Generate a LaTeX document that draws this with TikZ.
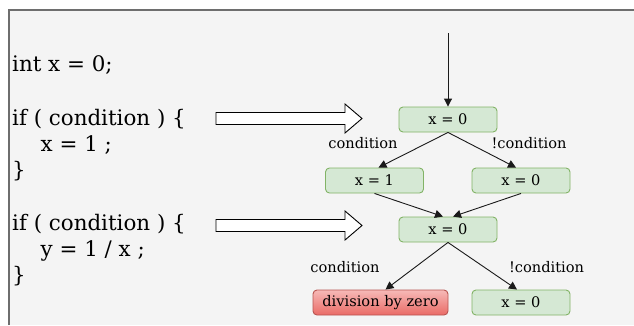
\documentclass[tikz,border=0pt]{standalone}
\usepackage{fontspec}
\setmainfont{DejaVu Serif}
\usetikzlibrary{arrows.meta}
\definecolor{bgfill}{HTML}{F4F4F4}
\definecolor{frameline}{HTML}{6E6E6E}
\definecolor{gfill}{HTML}{D5E8D4}
\definecolor{gline}{HTML}{82B366}
\definecolor{rtop}{HTML}{F6B9B7}
\definecolor{rbot}{HTML}{EA6B66}
\definecolor{rline}{HTML}{B85450}
\definecolor{edgecol}{HTML}{1A1A1A}
\tikzset{
  codeline/.style={anchor=base west, inner sep=0pt, font=\fontsize{21.4}{26}\selectfont},
  greenbox/.style={draw=gline, fill=gfill, rounded corners=4pt, line width=0.9pt,
    minimum width=98pt, minimum height=25pt, inner sep=0pt, font=\fontsize{14.6}{17}\selectfont},
  redbox/.style={draw=rline, top color=rtop, bottom color=rbot, rounded corners=4pt, line width=0.9pt,
    minimum width=135pt, minimum height=25pt, inner sep=0pt, font=\fontsize{14.6}{17}\selectfont},
  edgelbl/.style={inner sep=0pt, font=\fontsize{14.6}{17}\selectfont},
  flow/.style={draw=edgecol, line width=0.9pt, -{Triangle[length=8pt,width=8pt]}},
  bigarrow/.style={draw=black, fill=white, line width=0.9pt, line join=miter}
}
\begin{document}
\begin{tikzpicture}[x=1pt,y=-1pt]
\useasboundingbox (0,0) rectangle (634,325);
\fill[white] (0,0) rectangle (634,325);
\fill[bgfill] (9,10) rectangle (634,325);
\draw[frameline, line width=1.5pt] (9,325) -- (9,10) -- (634,10);

% code
\node[codeline] (c1) at (12,71.7) {int x = 0;};
\node[codeline] (c2) at (12,125) {if ( condition ) \{};
\node[codeline] (c3) at (40.5,151) {x = 1 ;};
\node[codeline] (c4) at (12,177) {\}};
\node[codeline] (c5) at (12,230) {if ( condition ) \{};
\node[codeline] (c6) at (40.5,256) {y = 1 / x ;};
\node[codeline] (c7) at (12,282) {\}};

% hollow arrows
\draw[bigarrow] (216,112.5) -- (345,112.5) -- (345,104) -- (362,118.5) -- (345,133) -- (345,124.5) -- (216,124.5) -- cycle;
\draw[bigarrow] (216,219.5) -- (345,219.5) -- (345,211) -- (362,225.5) -- (345,240) -- (345,231.5) -- (216,231.5) -- cycle;

% flow nodes
\node[greenbox] (a) at (448,119.5) {x = 0};
\node[greenbox] (b) at (374.5,180.5) {x = 1};
\node[greenbox] (c) at (521,180.5) {x = 0};
\node[greenbox] (d) at (448,229.5) {x = 0};
\node[redbox] (e) at (380.5,302.5) {division by zero};
\node[greenbox] (f) at (521,302.5) {x = 0};

\coordinate (start) at (448,33);
\draw[flow] (start) -- (a.north);
\draw[flow] (a.south) -- ([xshift=4pt]b.north);
\draw[flow] (a.south) -- ([xshift=-5pt]c.north);
\draw[flow] (b.south) -- ([xshift=-5pt]d.north);
\draw[flow] (c.south) -- ([xshift=5pt]d.north);
\draw[flow] (d.south) -- ([xshift=5pt]e.north);
\draw[flow] (d.south) -- ([xshift=-4pt]f.north);

% labels
\node[edgelbl] (l1) at (363,143) {condition};
\node[edgelbl] (l2) at (529,143) {!condition};
\node[edgelbl] (l3) at (345,267) {condition};
\node[edgelbl] (l4) at (546.5,267) {!condition};
\end{tikzpicture}
\end{document}
